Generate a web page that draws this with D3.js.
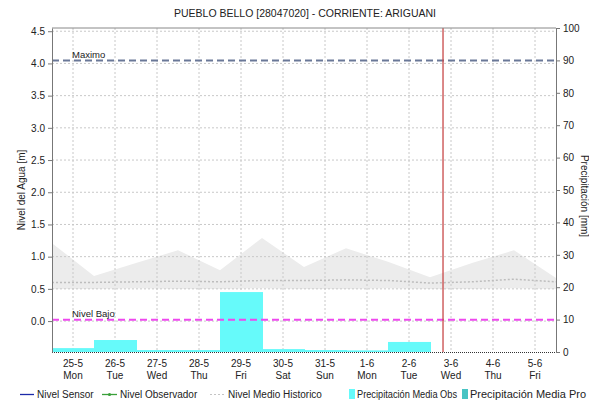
<!DOCTYPE html>
<html>
<head>
<meta charset="utf-8">
<script src="https://cdn.jsdelivr.net/npm/d3@7"></script>
<style>
  body { margin: 0; background: #fff; }
  svg { display: block; font-family: "Liberation Sans", Arial, sans-serif; }
  .axis text { font-size: 10px; fill: #222; }
  .axis path, .axis line { stroke: #777; }
</style>
</head>
<body>
<div id="container"></div>
<script>
// data
const days = ['25-5', '26-5', '27-5', '28-5', '29-5', '30-5', '31-5', '1-6', '2-6', '3-6', '4-6', '5-6'],
  weekdays = ['Mon', 'Tue', 'Wed', 'Thu', 'Fri', 'Sat', 'Sun', 'Mon', 'Tue', 'Wed', 'Thu', 'Fri'],
  precipObs = [1.2, 3.7, 0.6, 0.6, 18.5, 0.9, 0.6, 0.5, 3.1, 0, 0, 0],
  // historic level, sampled at day boundaries (index -0.5 .. 11.5)
  histPos = [-0.5, 0.5, 1.5, 2.5, 3.5, 4.5, 5.5, 6.5, 7.5, 8.5, 9.5, 10.5, 11.5],
  histMax = [1.21, 0.70, 0.90, 1.10, 0.79, 1.29, 0.84, 1.13, 0.92, 0.68, 0.90, 1.10, 0.67],
  histMin = [0.50, 0.50, 0.51, 0.50, 0.50, 0.51, 0.50, 0.50, 0.51, 0.50, 0.50, 0.51, 0.50],
  histMean = [0.60, 0.60, 0.61, 0.62, 0.61, 0.63, 0.63, 0.64, 0.63, 0.59, 0.61, 0.65, 0.61],
  levelTicks = [0, 0.5, 1, 1.5, 2, 2.5, 3, 3.5, 4, 4.5],
  precipTicks = [0, 10, 20, 30, 40, 50, 60, 70, 80, 90, 100],
  nivelMaximo = 4.045,
  nivelBajo = 0.02,
  nowPos = 8.81;

const W = 589, H = 404,
  m = { left: 52, right: 556, top: 28, bottom: 352 };

const svg = d3.select('#container')
  .append('svg')
    .attr('width', W)
    .attr('height', H);

const xBand = d3.scaleBand().domain(days).range([m.left, m.right]).padding(0),
  x = d3.scaleLinear().domain([-0.5, 11.5]).range([m.left, m.right]),
  yL = d3.scaleLinear().domain([-0.48, 4.55]).range([m.bottom, m.top]),
  yR = d3.scaleLinear().domain([0, 100]).range([m.bottom, m.top]);

// title
svg.append('text')
  .attr('x', 305).attr('y', 17)
  .attr('text-anchor', 'middle')
  .style('font-size', '10.5px')
  .style('fill', '#222')
  .text('PUEBLO BELLO [28047020] - CORRIENTE: ARIGUANI');

// historic band
const band = d3.area()
  .x((d, i) => x(histPos[i]))
  .y0((d, i) => yL(histMin[i]))
  .y1(d => yL(d));
svg.append('path')
  .datum(histMax)
  .attr('d', band)
  .attr('fill', '#ececec');

// grid
const grid = svg.append('g').attr('class', 'grid');
grid.selectAll('.h')
  .data(levelTicks)
  .enter()
  .append('line')
    .attr('x1', m.left).attr('x2', m.right)
    .attr('y1', d => yL(d)).attr('y2', d => yL(d))
    .attr('stroke', '#c8c8c8')
    .attr('stroke-dasharray', '2,2');
grid.selectAll('.v')
  .data(days)
  .enter()
  .append('line')
    .attr('x1', d => xBand(d) + xBand.bandwidth() / 2)
    .attr('x2', d => xBand(d) + xBand.bandwidth() / 2)
    .attr('y1', m.top).attr('y2', m.bottom)
    .attr('stroke', '#c8c8c8')
    .attr('stroke-dasharray', '2,2');

// historic mean
svg.append('path')
  .datum(histMean)
  .attr('d', d3.line().x((d, i) => x(histPos[i])).y(d => yL(d)))
  .attr('fill', 'none')
  .attr('stroke', '#bdbdbd')
  .attr('stroke-width', 1.5)
  .attr('stroke-dasharray', '2,2');

// precipitation bars
svg.append('g')
  .selectAll('rect')
  .data(precipObs)
  .enter()
  .append('rect')
    .attr('x', (d, i) => xBand(days[i]))
    .attr('width', xBand.bandwidth() + 1)
    .attr('y', d => yR(d))
    .attr('height', d => yR(0) - yR(d))
    .attr('fill', '#66fafa');

// threshold lines
svg.append('line')
  .attr('x1', m.left).attr('x2', m.right)
  .attr('y1', yL(nivelMaximo)).attr('y2', yL(nivelMaximo))
  .attr('stroke', '#6a7898').attr('stroke-width', 2)
  .attr('stroke-dasharray', '7,4');
svg.append('text')
  .attr('x', 72).attr('y', yL(nivelMaximo) - 3)
  .style('font-size', '9.5px').style('fill', '#222')
  .text('Maximo');
svg.append('line')
  .attr('x1', m.left).attr('x2', m.right)
  .attr('y1', yL(nivelBajo)).attr('y2', yL(nivelBajo))
  .attr('stroke', '#ee48ee').attr('stroke-width', 2)
  .attr('stroke-dasharray', '7,4');
svg.append('text')
  .attr('x', 72).attr('y', yL(nivelBajo) - 3)
  .style('font-size', '9.5px').style('fill', '#222')
  .text('Nivel Bajo');

// current time
svg.append('line')
  .attr('x1', x(nowPos)).attr('x2', x(nowPos))
  .attr('y1', m.top).attr('y2', m.bottom)
  .attr('stroke', '#c84848').attr('stroke-width', 1.3);

// frame
svg.append('line')
  .attr('x1', m.left).attr('x2', m.right)
  .attr('y1', m.top).attr('y2', m.top)
  .attr('stroke', '#888');
svg.append('line')
  .attr('x1', m.left).attr('x2', m.right)
  .attr('y1', m.bottom + 0.5).attr('y2', m.bottom + 0.5)
  .attr('stroke', '#333')
  .attr('stroke-dasharray', '1,1');

// axes
const yAxisL = d3.axisLeft(yL).tickValues(levelTicks).tickFormat(d3.format('.1f')).tickSize(4).tickSizeOuter(0);
svg.append('g')
  .attr('class', 'axis')
  .attr('transform', `translate(${m.left},0)`)
  .call(yAxisL);

const yAxisR = d3.axisRight(yR).tickValues(precipTicks).tickSize(4).tickSizeOuter(0);
svg.append('g')
  .attr('class', 'axis')
  .attr('transform', `translate(${m.right},0)`)
  .call(yAxisR);

const xAxis = d3.axisBottom(xBand).tickSize(0).tickFormat('');
const gx = svg.append('g')
  .attr('class', 'axis')
  .attr('transform', `translate(0,${m.bottom})`)
  .call(xAxis);
gx.select('.domain').remove();
gx.selectAll('.tick').each(function(d, i) {
  const t = d3.select(this).select('text').attr('y', 0).attr('dy', null);
  t.append('tspan').attr('x', 0).attr('y', 15).text(d);
  t.append('tspan').attr('x', 0).attr('y', 27).text(weekdays[i]);
});

// axis titles
svg.append('text')
  .attr('transform', 'translate(25,190) rotate(-90)')
  .attr('text-anchor', 'middle')
  .style('font-size', '10px').style('fill', '#222')
  .text('Nivel del Agua [m]');
svg.append('text')
  .attr('transform', 'translate(581,196) rotate(90)')
  .attr('text-anchor', 'middle')
  .style('font-size', '10px').style('fill', '#222')
  .text('Precipitación [mm]');

// legend
const lg = svg.append('g').attr('transform', 'translate(0,398)').style('font-size', '10px');
lg.append('line').attr('x1', 20).attr('x2', 34).attr('y1', -3.5).attr('y2', -3.5).attr('stroke', '#1c2aa8').attr('stroke-width', 1.3);
lg.append('text').attr('x', 37).attr('y', 0).style('fill', '#222').text('Nivel Sensor');
lg.append('line').attr('x1', 102).attr('x2', 117).attr('y1', -3.5).attr('y2', -3.5).attr('stroke', '#3aa03a').attr('stroke-width', 1.3);
lg.append('circle').attr('cx', 109.5).attr('cy', -3.5).attr('r', 1.6).attr('fill', '#3aa03a');
lg.append('text').attr('x', 120).attr('y', 0).style('fill', '#222').text('Nivel Observador');
lg.append('line').attr('x1', 210).attr('x2', 225).attr('y1', -3.5).attr('y2', -3.5).attr('stroke', '#c4c4c4').attr('stroke-dasharray', '2,2');
lg.append('text').attr('x', 228).attr('y', 0).style('fill', '#222').text('Nivel Medio Historico');
lg.append('rect').attr('x', 349).attr('y', -9).attr('width', 6).attr('height', 10).attr('fill', '#66fafa');
lg.append('text').attr('x', 357).attr('y', 0).style('fill', '#222')
  .attr('textLength', 100).attr('lengthAdjust', 'spacingAndGlyphs')
  .text('Precipitación Media Obs');
lg.append('rect').attr('x', 462).attr('y', -9).attr('width', 6).attr('height', 10).attr('fill', '#48c4c4');
lg.append('text').attr('x', 470).attr('y', 0).style('fill', '#222')
  .attr('textLength', 116).attr('lengthAdjust', 'spacingAndGlyphs')
  .text('Precipitación Media Pro');
</script>
</body>
</html>
